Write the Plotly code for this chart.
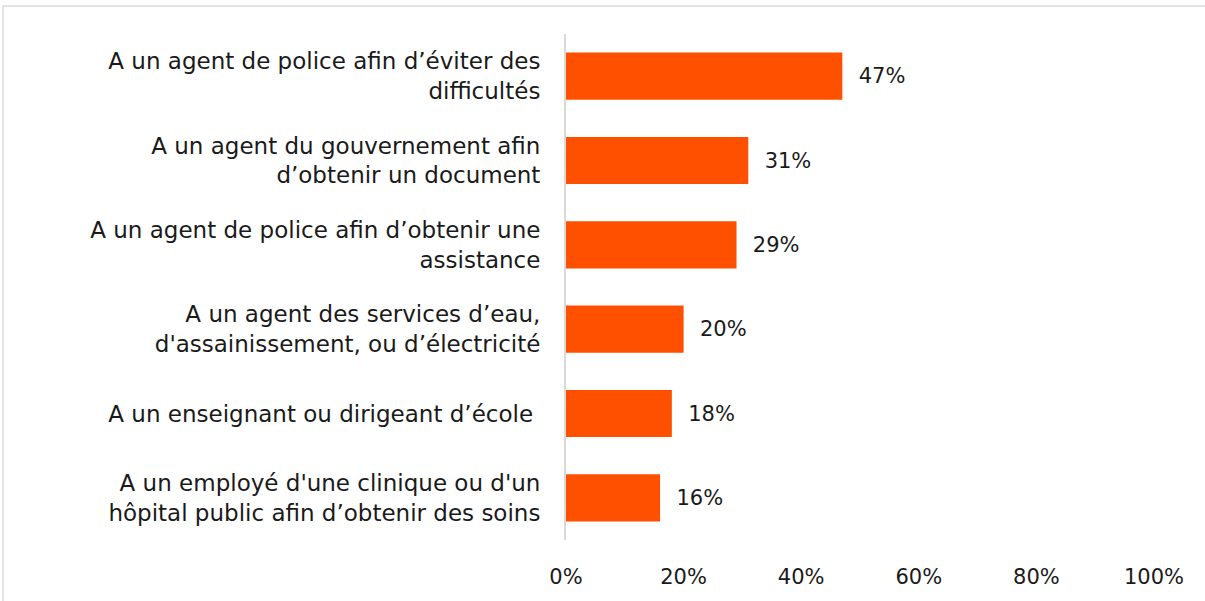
import plotly.graph_objects as go

categories = [
    "A un agent de police afin d’éviter des<br>difficultés",
    "A un agent du gouvernement afin<br>d’obtenir un document",
    "A un agent de police afin d’obtenir une<br>assistance",
    "A un agent des services d’eau,<br>d'assainissement, ou d’électricité",
    "A un enseignant ou dirigeant d’école ",
    "A un employé d'une clinique ou d'un<br>hôpital public afin d’obtenir des soins",
]
values = [47, 31, 29, 20, 18, 16]
x_ticks = [0, 20, 40, 60, 80, 100]
x_tick_text = ["0%", "20%", "40%", "60%", "80%", "100%"]

bar_color = "#FF5000"
font_family = "DejaVu Sans, sans-serif"

fig = go.Figure()
fig.add_trace(
    go.Bar(
        y=categories,
        x=values,
        orientation="h",
        width=0.56,
        marker=dict(color=bar_color, line=dict(width=0)),
        text=[f"\u00a0\u00a0{v}%" for v in values],
        textposition="outside",
        textfont=dict(size=21, color="#1a1a1a", family=font_family),
        cliponaxis=False,
        hoverinfo="x+y",
        showlegend=False,
    )
)

fig.update_layout(
    width=1205,
    height=601,
    margin=dict(l=566, r=51, t=34, b=61),
    paper_bgcolor="white",
    plot_bgcolor="white",
    font=dict(family=font_family, size=23, color="#1a1a1a"),
    xaxis=dict(
        range=[0, 100],
        tickvals=x_ticks,
        ticktext=x_tick_text,
        showgrid=False,
        zeroline=False,
        showline=False,
        ticks="",
        ticklabelstandoff=22,
        tickfont=dict(size=21),
    ),
    yaxis=dict(
        autorange="reversed",
        showgrid=False,
        zeroline=False,
        showline=True,
        linecolor="#d9d9d9",
        linewidth=2,
        ticks="",
        ticklabelstandoff=19,
        tickfont=dict(size=23),
    ),
)

# thin frame around the chart area
fig.add_shape(
    type="rect",
    xref="paper",
    yref="paper",
    x0=-0.9575,
    x1=1.2,
    y0=-0.3,
    y1=1.0553,
    line=dict(color="#d9d9d9", width=1.5),
    fillcolor="rgba(0,0,0,0)",
    layer="below",
)

fig.write_html(
    "out.html",
    config={"displayModeBar": False},
    post_script="document.body.style.margin = '0px';",
)
